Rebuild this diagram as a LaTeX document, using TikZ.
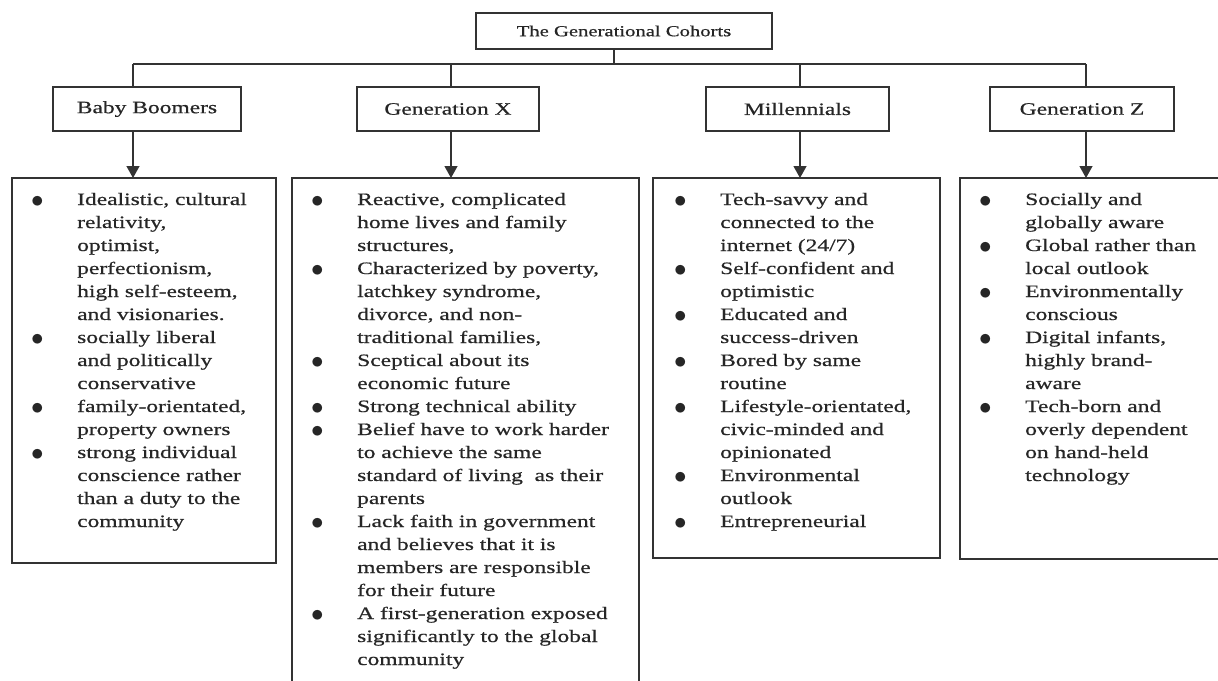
\documentclass[tikz,border=0pt]{standalone}
\usepackage{fontspec}
\setmainfont{Liberation Serif}[FakeStretch=1.35,FakeBold=0.6]
\usepackage{graphicx}
\usepackage{tikz}
\usetikzlibrary{arrows.meta}
\usetikzlibrary{calc}
\colorlet{boxline}{black!80}
\colorlet{ink}{black!85}
\tikzstyle{link}=[line width=1.3pt,draw=boxline]
\tikzstyle{drophead}=[>/.tip={Triangle[length=12pt,width=13pt]}]
\tikzstyle{drop}=[link,drophead,->]
\tikzstyle{cohort}=[draw=boxline,line width=1.5pt,inner sep=0pt,outer sep=0pt,text=ink,minimum height=44pt,font=\fontsize{17.4}{20}\selectfont]
\tikzstyle{head}=[cohort,minimum width=296pt,minimum height=36pt,font=\fontsize{15.3}{18}\selectfont]
\tikzstyle{listbox}=[draw=boxline,line width=1.5pt,inner sep=0pt,outer sep=0pt,anchor=north west]
\tikzstyle{listtext}=[inner sep=0pt,anchor=base west,text=ink,font=\fontsize{17.4}{23}\selectfont]
\newcommand\traits[1]{\begin{tabular}[t]{@{}p{46pt}@{}l@{}}#1\end{tabular}}
\newcommand\bul{\raisebox{-2.2pt}{\scalebox{1.45}{$\bullet$}}}

\begin{document}
\begin{tikzpicture}[x=1pt,y=-1pt]
	\useasboundingbox (0,0) rectangle (1218,680);
	\clip (0,0) rectangle (1218,680);
	\node[head] (top) at (624,31) {The Generational Cohorts};
	\node[cohort,minimum width=188pt] (bb) at (147,109) {Baby Boomers};
	\node[cohort,minimum width=182pt] (gx) at (448,109) {Generation X};
	\node[cohort,minimum width=183pt] (mi) at (797.5,109) {Millennials};
	\node[cohort,minimum width=184pt] (gz) at (1082,109) {Generation Z};
	% trait boxes
	\node[listbox,minimum width=264pt,minimum height=385pt] (lbb) at (12,178) {};
	\node[listbox,minimum width=347pt,minimum height=530pt] (lgx) at (292,178) {};
	\node[listbox,minimum width=287pt,minimum height=380pt] (lmi) at (653,178) {};
	\node[listbox,minimum width=280pt,minimum height=381pt] (lgz) at (960,178) {};
	\node[listtext] (tbb) at ($(lbb.north west)+(19,27)$) {\traits{
		\bul & Idealistic, cultural \\ & relativity, \\ & optimist, \\ & perfectionism, \\ & high self-esteem, \\ & and visionaries. \\
		\bul & socially liberal \\ & and politically \\ & conservative \\
		\bul & family-orientated, \\ & property owners \\
		\bul & strong individual \\ & conscience rather \\ & than a duty to the \\ & community}};
	\node[listtext] (tgx) at ($(lgx.north west)+(19,27)$) {\traits{
		\bul & Reactive, complicated \\ & home lives and family \\ & structures, \\
		\bul & Characterized by poverty, \\ & latchkey syndrome, \\ & divorce, and non- \\ & traditional families, \\
		\bul & Sceptical about its \\ & economic future \\
		\bul & Strong technical ability \\
		\bul & Belief have to work harder \\ & to achieve the same \\ & standard of living\ \ as their \\ & parents \\
		\bul & Lack faith in government \\ & and believes that it is \\ & members are responsible \\ & for their future \\
		\bul & A first-generation exposed \\ & significantly to the global \\ & community}};
	\node[listtext] (tmi) at ($(lmi.north west)+(21,27)$) {\traits{
		\bul & Tech-savvy and \\ & connected to the \\ & internet (24/7) \\
		\bul & Self-confident and \\ & optimistic \\
		\bul & Educated and \\ & success-driven \\
		\bul & Bored by same \\ & routine \\
		\bul & Lifestyle-orientated, \\ & civic-minded and \\ & opinionated \\
		\bul & Environmental \\ & outlook \\
		\bul & Entrepreneurial}};
	\node[listtext] (tgz) at ($(lgz.north west)+(19,27)$) {\traits{
		\bul & Socially and \\ & globally aware \\
		\bul & Global rather than \\ & local outlook \\
		\bul & Environmentally \\ & conscious \\
		\bul & Digital infants, \\ & highly brand- \\ & aware \\
		\bul & Tech-born and \\ & overly dependent \\ & on hand-held \\ & technology}};
	% connectors
	\coordinate (hub) at (614,64);
	\coordinate (jbb) at (133,64);
	\coordinate (jgx) at (451,64);
	\coordinate (jmi) at (800,64);
	\coordinate (jgz) at (1086,64);
	\draw[link] (top.south -| hub) -- (hub);
	\draw[link] (jbb) -- (jgz);
	\foreach \c in {bb,gx,mi,gz}{
		\draw[link] (j\c) -- (j\c |- \c.north);
		\draw[drop] (j\c |- \c.south) -- (j\c |- l\c.north);
	}
\end{tikzpicture}
\end{document}
